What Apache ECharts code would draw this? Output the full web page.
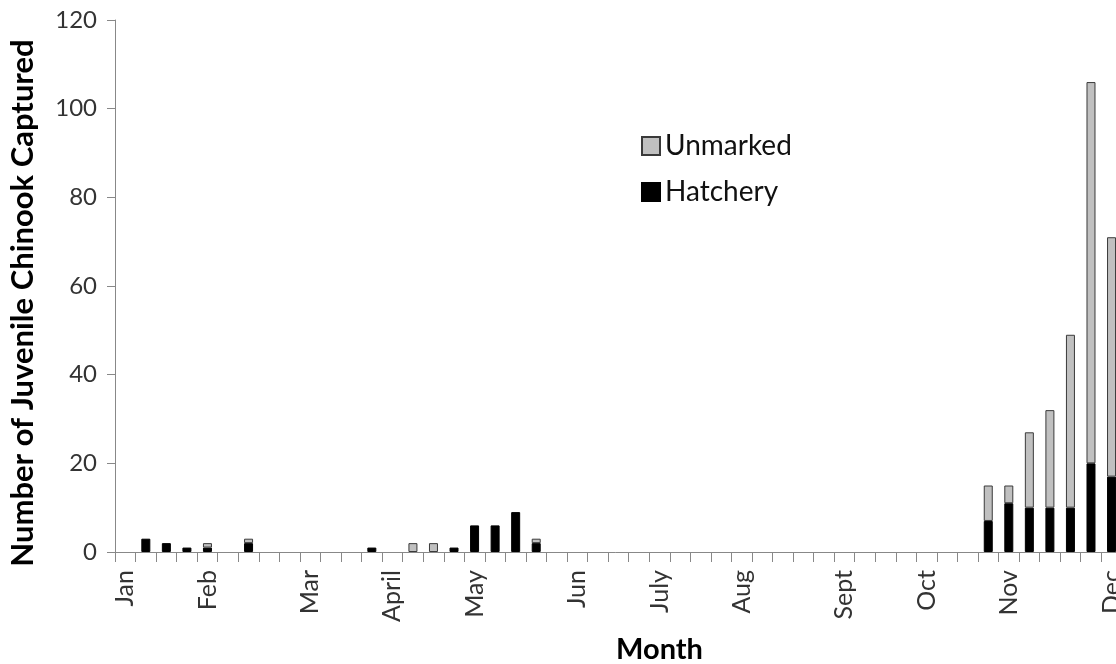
<!DOCTYPE html>
<html>
<head>
<meta charset="utf-8">
<script src="https://cdn.jsdelivr.net/npm/echarts@6/dist/echarts.min.js"></script>
<style>
html,body{margin:0;padding:0;background:#fff;}
#chart{width:1116px;height:664px;}
</style>
</head>
<body>
<div id="chart"></div>
<script>
// 53 weekly sampling periods (the last few weeks fall outside the cropped picture); month labels on the first week of each month
const monthLabels = ['Jan','','','','Feb','','','','','Mar','','','','April','','','','May','','','','','Jun','','','','July','','','','Aug','','','','','Sept','','','','Oct','','','','Nov','','','','','Dec','','','',''];
const hatchery = [0,3,2,1,1,0,2,0,0,0,0,0,1,0,0,0,1,6,6,9,2,0,0,0,0,0,0,0,0,0,0,0,0,0,0,0,0,0,0,0,0,0,7,11,10,10,10,20,17,null,null,null,null];
const unmarked = [0,0,0,0,1,0,1,0,0,0,0,0,0,0,2,2,0,0,0,0,1,0,0,0,0,0,0,0,0,0,0,0,0,0,0,0,0,0,0,0,0,0,8,4,17,22,39,86,54,null,null,null,null];
const yTicks = {min:0, max:120, interval:20};

const categories = monthLabels.map((m,i)=>'week ' + (i+1));
const nz = a => a.map(v => (v === 0 || v === null) ? '-' : v);
const FONT = 'Lato';

const chart = echarts.init(document.getElementById('chart'), null, {renderer:'canvas'});
chart.setOption({
  animation:false,
  backgroundColor:'#fff',
  grid:{left:115, top:20, width:1089, bottom:112, containLabel:false, outerBoundsMode:'none'},
  legend:{
    orient:'vertical', left:636, top:127,
    data:['Unmarked','Hatchery'],
    itemWidth:18, itemHeight:18, itemGap:18,
    icon:'rect',
    textStyle:{fontFamily:FONT, fontSize:28, color:'#111', lineHeight:28}
  },
  graphic:[{
    type:'text',
    x:23, y:303,
    rotation:Math.PI/2,
    style:{
      text:'Number of Juvenile Chinook Captured',
      fontFamily:FONT, fontSize:31, fontWeight:'bold', fill:'#000',
      align:'center', verticalAlign:'middle'
    }
  }],
  xAxis:{
    type:'category',
    data:categories,
    boundaryGap:true,
    name:'Month',
    nameLocation:'middle',
    nameGap:83,
    nameTextStyle:{fontFamily:FONT, fontSize:29, fontWeight:'bold', color:'#000'},
    axisLine:{lineStyle:{color:'#888', width:1}},
    axisTick:{show:true, interval:0, length:10, lineStyle:{color:'#888'}},
    axisLabel:{
      interval:0, rotate:90, margin:18,
      fontFamily:FONT, fontSize:25, color:'#333',
      formatter:(v,i)=>monthLabels[i]
    }
  },
  yAxis:{
    type:'value',
    min:yTicks.min, max:yTicks.max, interval:yTicks.interval,
    axisLine:{show:true, lineStyle:{color:'#888', width:1}},
    axisTick:{show:true, length:8, lineStyle:{color:'#888'}},
    axisLabel:{margin:18, fontFamily:FONT, fontSize:24, color:'#333'},
    splitLine:{show:false}
  },
  series:[
    {
      name:'Hatchery', type:'bar', stack:'total',
      data:nz(hatchery), barWidth:9,
      itemStyle:{color:'#000', borderColor:'#000', borderWidth:1}
    },
    {
      name:'Unmarked', type:'bar', stack:'total',
      data:nz(unmarked), barWidth:9,
      itemStyle:{color:'#c0c0c0', borderColor:'#3a3a3a', borderWidth:1}
    }
  ]
});
</script>
</body>
</html>
